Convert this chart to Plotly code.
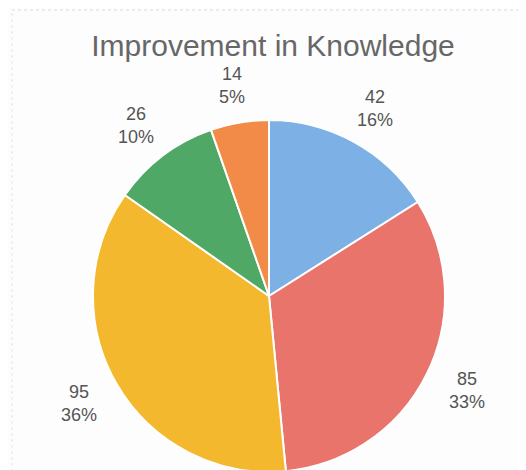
import math
import plotly.graph_objects as go

labels = ["A", "B", "C", "D", "E"]
values = [42, 85, 95, 26, 14]
percents = ["16%", "33%", "36%", "10%", "5%"]
colors = ["#7db1e6", "#e9746b", "#f3b82e", "#4fa865", "#f28b48"]

W, H = 526, 470
CX, CY, R = 261, 288, 176  # pie centre / radius in px (page has 8px body margin)

fig = go.Figure(go.Pie(
    labels=labels,
    values=values,
    sort=False,
    direction="clockwise",
    rotation=0,
    marker=dict(colors=colors, line=dict(color="white", width=2)),
    textinfo="none",
    hoverinfo="label+value+percent",
    showlegend=False,
    domain=dict(x=[(CX - R) / W, (CX + R) / W],
                y=[1 - (CY + R) / H, 1 - (CY - R) / H]),
))

# value / percent labels outside each slice: a point just past the rim on the
# slice mid-angle, pushed out by half the label box
total = sum(values)
cum = 0
for v, p in zip(values, percents):
    mid = (cum + v / 2) / total * 2 * math.pi
    cum += v
    s, c = math.sin(mid), math.cos(mid)
    px = CX + (R + 18) * s + 26 * s
    py = CY - (R + 18) * c - 20 * c
    fig.add_annotation(
        x=px / W, y=1 - py / H, xref="paper", yref="paper",
        text=f"{v}<br>{p}", showarrow=False,
        font=dict(size=18, color="#555555", family="Liberation Sans, Arial"),
        xanchor="center", yanchor="middle",
    )

fig.add_shape(type="line", xref="paper", yref="paper",
              x0=4 / W, x1=1, y0=1 - 2 / H, y1=1 - 2 / H,
              line=dict(color="#dcdcdc", width=1, dash="dot"))
fig.add_shape(type="line", xref="paper", yref="paper",
              x0=4 / W, x1=4 / W, y0=0, y1=1 - 2 / H,
              line=dict(color="#e4e4e4", width=1, dash="dot"))

fig.update_layout(
    width=W, height=H,
    margin=dict(l=0, r=0, t=0, b=0),
    paper_bgcolor="#fdfdfd",
    title=dict(
        text="Improvement in Knowledge",
        x=265 / W, y=1 - 37 / H, xanchor="center", yanchor="middle",
        font=dict(size=30, color="#676767", family="Liberation Sans, Arial"),
    ),
)

fig.write_html("out.html")
